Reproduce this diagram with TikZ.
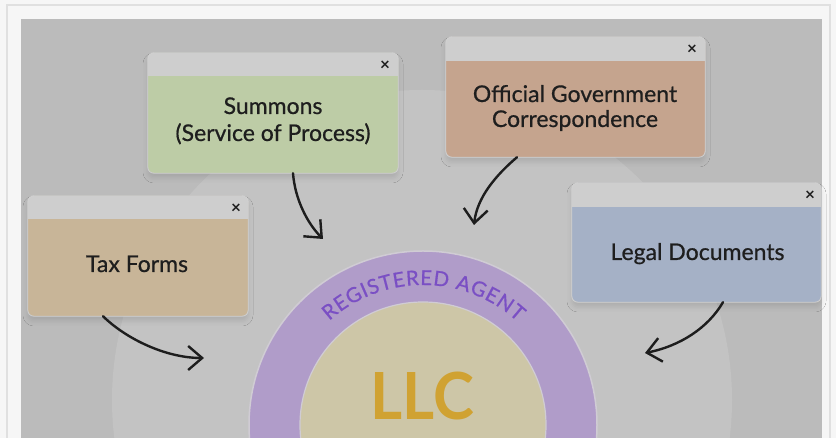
\documentclass[tikz,border=0pt]{standalone}
\usepackage{fontspec}
\setmainfont{Lato}
\newfontfamily\medfam{Lato}[FakeBold=0.7]
\usetikzlibrary{arrows.meta,decorations.text,shadows.blur}
\definecolor{outerc}{HTML}{F6F6F6}
\definecolor{framec}{HTML}{E0E0E0}
\definecolor{innergray}{HTML}{BBBBBB}
\definecolor{bgcirc}{HTML}{C3C3C3}
\definecolor{titlec}{HTML}{CECECE}
\definecolor{boxedge}{HTML}{D2D2D2}
\definecolor{greenc}{HTML}{BDCCA6}
\definecolor{offc}{HTML}{C5A48E}
\definecolor{taxc}{HTML}{C8B598}
\definecolor{legalc}{HTML}{A5B1C6}
\definecolor{ringc}{HTML}{B09CC9}
\definecolor{ringedge}{HTML}{D0CCD4}
\definecolor{innerc}{HTML}{CDC6A7}
\definecolor{llccol}{HTML}{D0A232}
\definecolor{agentc}{HTML}{7A4FC4}
\definecolor{txtc}{HTML}{1E1E1E}
\definecolor{arrc}{HTML}{1D1D1D}
\newcommand\boxfont{\medfam\fontsize{23}{27}\selectfont}
\newcommand\xfont{\fontsize{17}{17}\selectfont\bfseries}
\newcommand\llcfont{\fontsize{65}{65}\selectfont\bfseries}
\newcommand\agentfont{\medfam\fontsize{20.5}{20.5}\selectfont}
\begin{document}
\begin{tikzpicture}[x=1pt,y=1pt,
  winbox/.style={rounded corners=6pt, inner sep=0pt,
    blur shadow={shadow xshift=0pt,shadow yshift=-5pt,shadow blur radius=5pt,shadow opacity=11}},
  boxtext/.style={anchor=base, text=txtc, font=\boxfont, inner sep=0pt},
  xmark/.style={text=txtc, font=\xfont, inner sep=0pt},
  curvearrow/.style={draw=arrc, line width=2.4pt, line cap=round,
    -{Straight Barb[length=14pt,width=24pt,line width=2.4pt]}}
]
\useasboundingbox (0,0) rectangle (836,438);
% frame
\fill[outerc] (0,0) rectangle (836,438);
\draw[framec, line width=2pt] (7,-5) rectangle (830,433);
\fill[innergray] (21,0) rectangle (822,419);
\begin{scope}
  \clip (21,0) rectangle (822,419);
  \fill[bgcirc] (422,38) circle[radius=310];
\end{scope}

% central circle
\node[circle, fill=ringc, draw=ringedge, line width=1.5pt, minimum size=348pt, inner sep=0pt] (agent) at (423,13) {};
\node[circle, fill=innerc, draw=ringedge, line width=1.2pt, minimum size=246pt, inner sep=0pt] (core) at (423,13) {};
\node[anchor=base, text=llccol, font=\llcfont, inner sep=0pt] (llc) at (422.5,18) {\scalebox{0.95}[1]{LLC}};
\path[decorate, decoration={text along path, text={|\agentfont|REGISTERED AGENT}, text align={fit to path}, text color=agentc}]
  (423,13) ++(132:140) arc[start angle=132, end angle=47.5, radius=140];

% boxes
\node[winbox, fill=greenc, minimum width=250pt, minimum height=120pt] (summ) at (273,325) {};
\node[winbox, fill=offc, minimum width=259pt, minimum height=120pt] (offi) at (575.5,341) {};
\node[winbox, fill=taxc, minimum width=220pt, minimum height=120pt] (tax) at (138,182) {};
\node[winbox, fill=legalc, minimum width=249pt, minimum height=119pt] (legal) at (696.5,195.5) {};
\foreach \b/\h in {summ/23, offi/24, tax/23, legal/24}{
  \begin{scope}
    \clip[rounded corners=6pt] (\b.south west) rectangle (\b.north east);
    \fill[titlec] (\b.north west) rectangle ([yshift=-\h pt]\b.north east);
  \end{scope}
  \draw[boxedge, line width=0.8pt, rounded corners=6pt] (\b.south west) rectangle (\b.north east);
}

% close marks
\node[xmark] (xs) at (385,372) {×};
\node[xmark] (xo) at (692,388) {×};
\node[xmark] (xt) at (236,229) {×};
\node[xmark] (xl) at (810,242) {×};

% texts
\node[boxtext] (s1) at (273,324) {Summons};
\node[boxtext] (s2) at (273,297) {(Service of Process)};
\node[boxtext] (o1) at (575,336) {Official Government};
\node[boxtext] (o2) at (575,311) {Correspondence};
\node[boxtext] (t1) at (137,166) {Tax Forms};
\node[boxtext] (l1) at (697.5,178) {Legal Documents};

% arrows
\coordinate (es) at (323,199);
\coordinate (eo) at (474,213);
\coordinate (et) at (204,80);
\coordinate (el) at (645,85);
\draw[curvearrow] ([xshift=20pt]summ.south) .. controls (295,238) and (308,214) .. (es);
\draw[curvearrow] ([xshift=-58.5pt]offi.south) .. controls (495,262) and (477,240) .. (eo);
\draw[curvearrow] ([xshift=-35pt]tax.south) .. controls (125,100) and (165,80) .. (et);
\draw[curvearrow] ([xshift=26.5pt]legal.south) .. controls (708,110) and (680,92) .. (el);
\end{tikzpicture}
\end{document}
